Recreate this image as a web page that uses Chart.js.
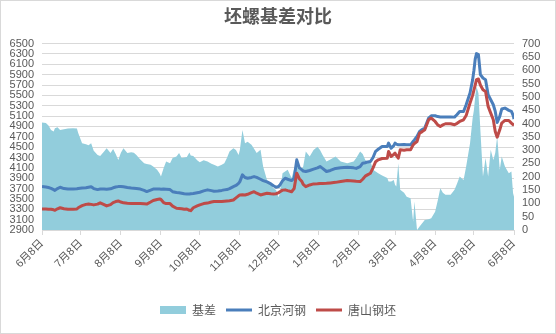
<!DOCTYPE html>
<html>
<head>
<meta charset="utf-8">
<script src="https://cdn.jsdelivr.net/npm/chart.js@4/dist/chart.umd.min.js"></script>
<style>
  html, body { margin: 0; padding: 0; background: #fff; }
  #wrap { position: relative; width: 556px; height: 334px; }
</style>
</head>
<body>
<div id="wrap"><canvas id="basis-chart"></canvas></div>
<script>
// days counted from 6月8日
const days = [
  0, 3, 5, 7, 9, 10, 12, 14, 17, 20,
  24, 27, 28, 31, 34, 36, 38, 40, 43, 45,
  48, 50, 53, 55, 57, 59, 61, 63, 66, 69,
  71, 73, 76, 79, 81, 84, 86, 89, 91, 92,
  94, 96, 99, 101, 104, 106, 108, 110, 112, 114,
  115, 117, 120, 122, 125, 128, 131, 133, 136, 139,
  141, 143, 145, 148, 150, 152, 153, 155, 157, 159,
  162, 164, 166, 169, 171, 174, 177, 179, 181, 183,
  184, 186, 188, 190, 193, 195, 197, 199, 201, 202,
  204, 207, 210, 213, 215, 217, 220, 223, 227, 231,
  236, 241, 243, 246, 248, 250, 252, 254, 256, 258,
  260, 263, 267, 268, 270, 272, 273, 274, 275.5, 277,
  280, 282, 285, 287, 288, 290, 292, 294, 296, 299,
  301, 304, 306, 308, 310, 312, 316, 319, 321, 323,
  326, 328, 331, 333, 334, 335, 336, 337.5, 339, 341,
  343, 345, 347, 349, 350.5, 352, 354, 355.5, 358, 361,
  363, 364.5, 365
];

// 基差 (right axis)
const basis = [
  404, 402, 392, 376, 370, 382, 386, 376, 378, 381,
  382, 381, 364, 326, 322, 318, 326, 298, 282, 278,
  295, 307, 289, 304, 285, 263, 290, 307, 289, 292,
  290, 282, 265, 251, 248, 245, 238, 226, 212, 201,
  232, 257, 251, 270, 276, 289, 270, 272, 274, 291,
  280, 278, 262, 254, 262, 257, 249, 245, 238, 245,
  251, 270, 295, 307, 300, 282, 300, 376, 326, 331,
  320, 305, 289, 301, 238, 188, 170, 157, 150, 123,
  140, 213, 220, 226, 195, 230, 257, 226, 230, 238,
  295, 276, 300, 313, 300, 282, 257, 265, 276, 257,
  251, 257, 270, 295, 285, 263, 257, 257, 226, 220,
  213, 205, 195, 182, 182, 188, 170, 163, 251, 151,
  140, 125, 119, 31, 107, 0, 13, 25, 38, 40,
  44, 69, 110, 157, 140, 132, 132, 151, 175, 201,
  188, 238, 326, 420, 451, 500, 539, 514, 376, 201,
  270, 201, 301, 263, 289, 351, 226, 276, 238, 213,
  220, 125, 138
];

// 北京河钢 (left axis)
const beijing = [
  3740, 3730, 3720, 3705, 3680, 3665, 3700, 3725, 3700, 3690,
  3690, 3695, 3700, 3710, 3715, 3725, 3735, 3700, 3680, 3690,
  3690, 3685, 3695, 3715, 3730, 3738, 3740, 3735, 3720, 3710,
  3705, 3700, 3690, 3665, 3642, 3670, 3690, 3690, 3690, 3688,
  3690, 3688, 3680, 3640, 3625, 3620, 3610, 3600, 3597, 3595,
  3600, 3605, 3620, 3630, 3655, 3675, 3660, 3650, 3655, 3665,
  3675, 3680, 3700, 3738, 3760, 3800, 3835, 3965, 3915, 3900,
  3915, 3932, 3915, 3880, 3855, 3830, 3790, 3755, 3726, 3740,
  3770, 3850, 3900, 3880, 3855, 3900, 4255, 4100, 4060, 4040,
  4030, 4050, 4075, 4100, 4125, 4090, 4030, 4050, 4090, 4100,
  4110, 4100, 4090, 4125, 4190, 4200, 4215, 4222, 4300, 4420,
  4460, 4513, 4513, 4577, 4480, 4530, 4577, 4560, 4545, 4545,
  4550, 4545, 4545, 4609, 4640, 4706, 4803, 4840, 4868, 5062,
  5106, 5106, 5090, 5083, 5083, 5083, 5083, 5080, 5130, 5190,
  5190, 5320, 5545, 5800, 5980, 6200, 6306, 6287, 5900, 5835,
  5803, 5513, 5416, 5319, 5190, 4977, 5093, 5236, 5255, 5210,
  5190, 5106, 5042
];

// 唐山钢坯 (left axis)
const tangshan = [
  3305, 3305, 3300, 3300, 3290, 3280, 3310, 3330, 3310, 3300,
  3300, 3305, 3330, 3370, 3395, 3400, 3395, 3385, 3400, 3425,
  3390, 3365, 3390, 3430, 3450, 3461, 3440, 3425, 3415, 3410,
  3410, 3410, 3410, 3405, 3400, 3440, 3470, 3490, 3500, 3490,
  3430, 3410, 3410, 3360, 3320, 3315, 3310, 3300, 3306, 3280,
  3274, 3330, 3365, 3385, 3410, 3420, 3440, 3450, 3450, 3450,
  3455, 3460, 3465, 3480, 3520, 3560, 3577, 3580, 3577, 3590,
  3620, 3640, 3610, 3577, 3590, 3610, 3600, 3597, 3600, 3620,
  3640, 3670, 3675, 3660, 3640, 3700, 3997, 3890, 3835, 3780,
  3738, 3770, 3790, 3795, 3800, 3800, 3803, 3810, 3820, 3835,
  3855, 3845, 3840, 3835, 3880, 3940, 3970, 3997, 4100, 4220,
  4255, 4280, 4287, 4416, 4319, 4360, 4384, 4340, 4287, 4448,
  4440, 4448, 4448, 4545, 4570, 4609, 4771, 4800, 4835, 5029,
  5062, 4996, 4930, 4900, 4930, 4952, 4952, 4932, 4960, 4996,
  5029, 5110, 5352, 5500, 5600, 5700, 5803, 5816, 5700, 5610,
  5577, 5287, 5158, 5029, 4803, 4693, 4835, 4964, 5016, 5016,
  4964, 4932, 4920
];

const monthDays = [0, 30, 61, 92, 122, 153, 183, 214, 245, 273, 304, 334, 365];
const monthLabels = ['6月8日', '7月8日', '8月8日', '9月8日', '10月8日', '11月8日', '12月8日',
  '1月8日', '2月8日', '3月8日', '4月8日', '5月8日', '6月8日'];

const toPoints = (vals) => vals.map((v, i) => ({ x: days[i], y: v }));

const labelFont = { family: '"Liberation Sans", "Noto Sans CJK SC", sans-serif', size: 11 };
const textColor = '#595959';

// white background and thin chart border
const frame = {
  id: 'frame',
  beforeDraw(chart) {
    const c = chart.ctx;
    c.save();
    c.fillStyle = '#fff';
    c.fillRect(0, 0, chart.width, chart.height);
    c.strokeStyle = '#d9d9d9';
    c.lineWidth = 1;
    c.strokeRect(0.5, 0.5, chart.width - 1, chart.height - 1);
    c.restore();
  }
};

new Chart(document.getElementById('basis-chart'), {
  type: 'line',
  data: {
    datasets: [
      {
        label: '基差',
        data: toPoints(basis),
        yAxisID: 'y1',
        fill: 'origin',
        backgroundColor: '#92CDDC',
        borderColor: '#92CDDC',
        borderWidth: 0,
        pointRadius: 0,
        pointStyle: 'rect',
        order: 2
      },
      {
        label: '北京河钢',
        data: toPoints(beijing),
        yAxisID: 'y',
        borderColor: '#4A7EBB',
        backgroundColor: '#4A7EBB',
        borderWidth: 3,
        pointRadius: 0,
        pointStyle: 'line',
        order: 1
      },
      {
        label: '唐山钢坯',
        data: toPoints(tangshan),
        yAxisID: 'y',
        borderColor: '#BE4B48',
        backgroundColor: '#BE4B48',
        borderWidth: 3,
        pointRadius: 0,
        pointStyle: 'line',
        order: 0
      }
    ]
  },
  options: {
    responsive: true,
    maintainAspectRatio: false,
    animation: false,
    layout: { padding: { top: 0, bottom: 8, left: 0, right: 0 } },
    elements: { line: { tension: 0, borderJoinStyle: 'round' } },
    plugins: {
      title: {
        display: true,
        text: '坯螺基差对比',
        color: textColor,
        font: { family: '"Noto Sans CJK SC", sans-serif', size: 18, weight: 'bold' },
        padding: { top: 5, bottom: 17 }
      },
      legend: {
        position: 'bottom',
        labels: {
          usePointStyle: true,
          pointStyleWidth: 26,
          boxHeight: 8,
          padding: 10,
          color: textColor,
          font: { family: '"Noto Sans CJK SC", sans-serif', size: 12 },
          sort: (a, b) => a.datasetIndex - b.datasetIndex
        }
      },
      tooltip: { enabled: false }
    },
    scales: {
      x: {
        type: 'linear',
        min: 0,
        max: 365,
        afterBuildTicks: (scale) => {
          scale.ticks = monthDays.map((d) => ({ value: d }));
        },
        afterFit: (scale) => { scale.height = 64; },
        ticks: {
          autoSkip: false,
          minRotation: 45,
          maxRotation: 45,
          padding: 2,
          color: textColor,
          font: labelFont,
          callback: (v, i) => monthLabels[i]
        },
        grid: {
          drawOnChartArea: false,
          drawTicks: true,
          tickLength: 5,
          color: '#d9d9d9'
        },
        border: { color: '#d9d9d9' }
      },
      y: {
        position: 'left',
        min: 2900,
        max: 6500,
        afterFit: (scale) => { scale.width = 42; },
        ticks: {
          stepSize: 200,
          autoSkip: false,
          padding: 8,
          color: textColor,
          font: labelFont,
          callback: (v) => String(v)
        },
        grid: { color: '#d9d9d9', drawTicks: false },
        border: { display: false }
      },
      y1: {
        position: 'right',
        min: 0,
        max: 700,
        afterFit: (scale) => { scale.width = 42; },
        ticks: {
          stepSize: 50,
          autoSkip: false,
          padding: 8,
          color: textColor,
          font: labelFont,
          callback: (v) => String(v)
        },
        grid: { drawOnChartArea: false, drawTicks: false },
        border: { display: false }
      }
    }
  },
  plugins: [frame]
});
</script>
</body>
</html>
